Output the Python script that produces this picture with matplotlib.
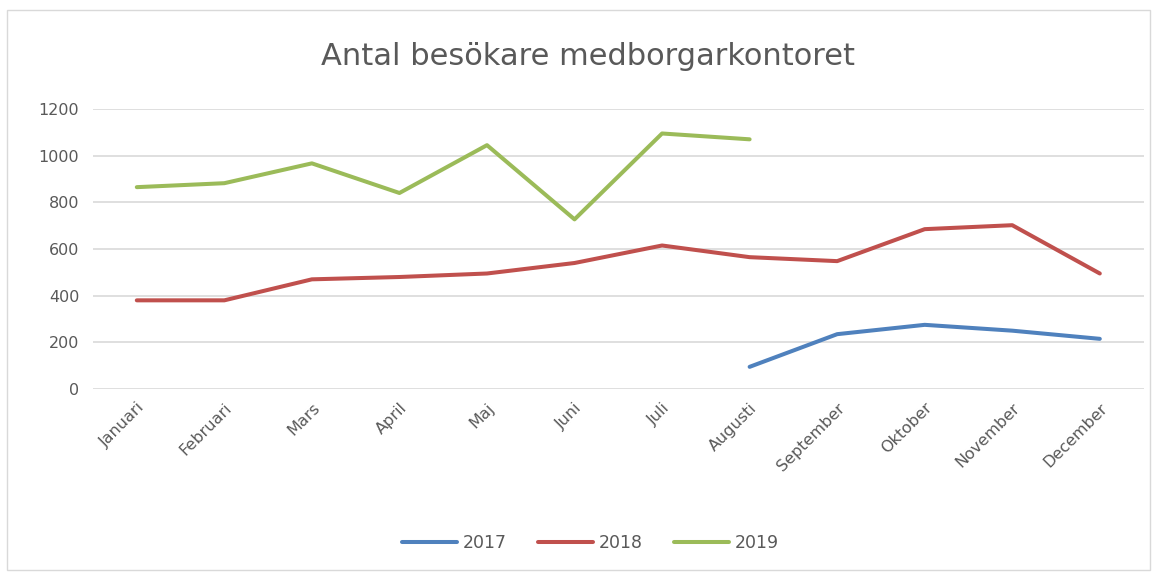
import matplotlib.pyplot as plt
from matplotlib.patches import Rectangle

months = ['Januari', 'Februari', 'Mars', 'April', 'Maj', 'Juni', 'Juli',
          'Augusti', 'September', 'Oktober', 'November', 'December']
v2017 = [None, None, None, None, None, None, None, 95, 235, 275, 250, 215]
v2018 = [380, 380, 470, 480, 495, 540, 615, 565, 548, 685, 702, 495]
v2019 = [865, 882, 967, 840, 1045, 727, 1095, 1070]
yticks = [0, 200, 400, 600, 800, 1000, 1200]

c2017 = '#4F81BD'
c2018 = '#C0504D'
c2019 = '#9BBB59'
grey = '#595959'

fig = plt.figure(figsize=(11.57, 5.73), dpi=100)
ax = fig.add_axes([0.0804, 0.3211, 0.908, 0.4887])

x = list(range(len(months)))
x17 = [i for i, v in zip(x, v2017) if v is not None]
y17 = [v for v in v2017 if v is not None]
ax.plot(x17, y17, color=c2017, lw=2.9, solid_capstyle='round', label='2017')
ax.plot(x, v2018, color=c2018, lw=2.9, solid_capstyle='round', label='2018')
ax.plot(x[:len(v2019)], v2019, color=c2019, lw=2.9, solid_capstyle='round', label='2019')

ax.set_xlim(-0.5, len(months) - 0.5)
ax.set_ylim(0, 1200)
ax.set_yticks(yticks)
ax.set_yticklabels([str(t) for t in yticks], fontsize=11.5, color=grey)
ax.set_xticks(x)
ax.set_xticklabels(months, rotation=45, ha='right', rotation_mode='anchor',
                   fontsize=11.5, color=grey)
ax.tick_params(length=0, pad=10)
ax.tick_params(axis='x', pad=8)
ax.grid(axis='y', color='#D9D9D9', lw=1.2)
ax.set_axisbelow(True)
for s in ax.spines.values():
    s.set_visible(False)

fig.text(0.508, 0.902, 'Antal besökare medborgarkontoret', ha='center', va='center',
         fontsize=22, color=grey)

fig.legend(loc='center', bbox_to_anchor=(0.51, 0.052), ncol=3, frameon=False,
           fontsize=12.5, handlelength=3.2, columnspacing=1.8, handletextpad=0.3,
           labelcolor=grey)

fig.patches.append(Rectangle((0.006, 0.005), 0.988, 0.978, transform=fig.transFigure,
                             fill=False, edgecolor='#D9D9D9', lw=1))

fig.savefig('out.png', dpi=100)
